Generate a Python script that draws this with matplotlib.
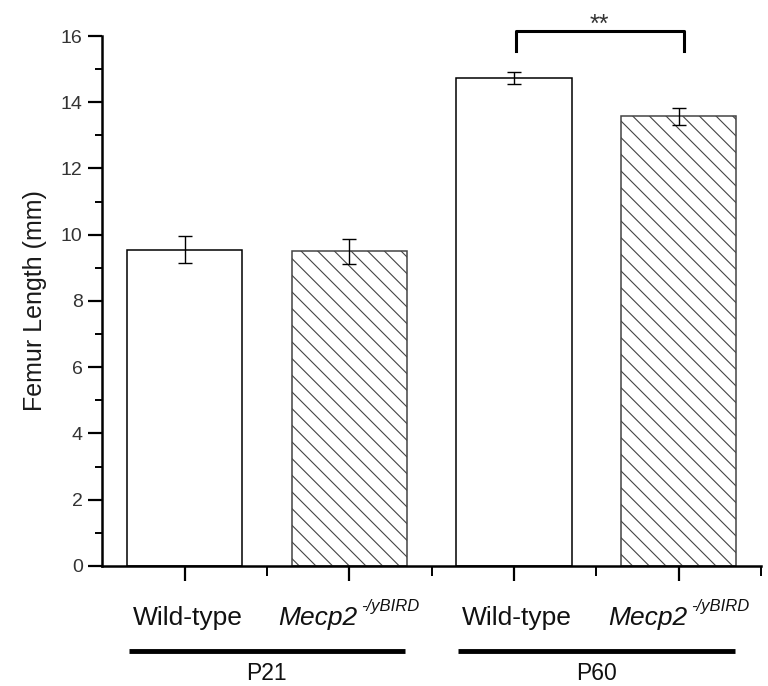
import numpy as np
import matplotlib.pyplot as plt
import matplotlib.transforms as mtransforms
from matplotlib.ticker import MultipleLocator, FixedLocator

plt.rcParams['font.family'] = ['Liberation Sans', 'DejaVu Sans']
plt.rcParams['hatch.linewidth'] = 0.8

# data
genotypes = ['Wild-type', 'Mecp2', 'Wild-type', 'Mecp2']
superscripts = ['', '-/yBIRD', '', '-/yBIRD']
groups = ['P21', 'P60']
lengths = [9.55, 9.5, 14.72, 13.58]
errors = [0.4, 0.38, 0.18, 0.26]
hatches = ['', '\\\\', '', '\\\\']

x = np.arange(1, len(lengths) + 1)

fig = plt.figure(figsize=(7.68, 6.86), dpi=100)
ax = fig.add_axes([0.133, 0.175, 0.858, 0.7725])

for xi, v, e, h in zip(x, lengths, errors, hatches):
    ax.bar(xi, v, width=0.7, color='white', edgecolor='black', linewidth=1.1,
           hatch=h, zorder=2)
    ax.errorbar(xi, v, yerr=e, color='black', capsize=5, elinewidth=1,
                capthick=1, zorder=3)
for p in ax.patches:
    if p.get_hatch():
        p.set_edgecolor('#444444')
        p.set_linewidth(1.1)

ax.set_xlim(0.5, 4.5)
ax.set_ylim(0, 16)
ax.spines['top'].set_visible(False)
ax.spines['right'].set_visible(False)
ax.spines['left'].set_linewidth(1.8)
ax.spines['bottom'].set_linewidth(1.8)
ax.set_xticks(x)
ax.set_xticklabels([])
ax.xaxis.set_minor_locator(FixedLocator([1.5, 2.5, 3.5, 4.5]))
ax.yaxis.set_major_locator(MultipleLocator(2))
ax.yaxis.set_minor_locator(MultipleLocator(1))
ax.tick_params(which='major', length=10, width=1.6, direction='out',
               labelsize=14, labelcolor='#333333', pad=4)
ax.tick_params(which='minor', length=5, width=1.4, direction='out')
ax.tick_params(axis='x', which='major', length=11)
ax.tick_params(axis='x', which='minor', length=7)
ax.set_ylabel('Femur Length (mm)', fontsize=18, color='#1a1a1a', labelpad=10)

# significance bracket
by0, by1 = 15.54, 16.16
ax.plot([x[2] + 0.01, x[2] + 0.01, x[3] + 0.03, x[3] + 0.03], [by0, by1, by1, by0],
        color='black', lw=2.2, clip_on=False)
ax.text((x[2] + x[3]) / 2 + 0.02, 16.7, '**', ha='center', va='top',
        fontsize=18, color='#333333')

# x labels and groups
bt = mtransforms.blended_transform_factory(ax.transData, ax.transAxes)
for xi, lab, sup in zip(x, genotypes, superscripts):
    if sup:
        ax.text(xi + 0.05, -0.075, lab, transform=bt, ha='right', va='top',
                fontsize=19, style='italic', color='#111111')
        ax.text(xi + 0.075, -0.062, sup, transform=bt, ha='left', va='top',
                fontsize=12, style='italic', color='#111111')
    else:
        ax.text(xi + 0.02, -0.075, lab, transform=bt, ha='center', va='top',
                fontsize=19, color='#111111')
for gi, g in enumerate(groups):
    c = (x[2 * gi] + x[2 * gi + 1]) / 2
    ax.plot([c - 0.84, c + 0.84], [-0.160, -0.160], transform=bt, color='black',
            lw=3.5, clip_on=False, solid_capstyle='butt')
    ax.text(c, -0.182, g, transform=bt, ha='center', va='top', fontsize=16.5,
            color='#111111')

fig.savefig('out.png', dpi=100)
